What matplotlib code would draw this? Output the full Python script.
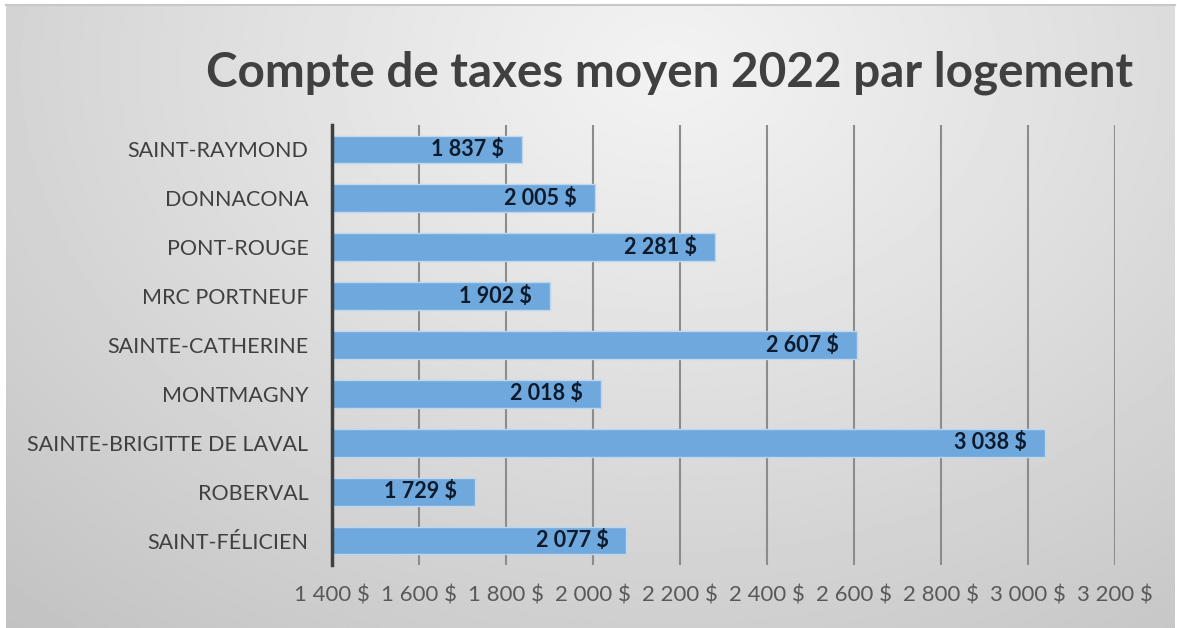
import numpy as np
import matplotlib
matplotlib.use("Agg")
import matplotlib.pyplot as plt

plt.rcParams['font.family'] = ['Lato', 'DejaVu Sans']

# Données
villes = ["SAINT-RAYMOND", "DONNACONA", "PONT-ROUGE", "MRC PORTNEUF",
          "SAINTE-CATHERINE", "MONTMAGNY", "SAINTE-BRIGITTE DE LAVAL",
          "ROBERVAL", "SAINT-FÉLICIEN"]
taxes = [1837, 2005, 2281, 1902, 2607, 2018, 3038, 1729, 2077]
ticks_x = [1400, 1600, 1800, 2000, 2200, 2400, 2600, 2800, 3000, 3200]


def dollars(v):
    return f"{v:,.0f}".replace(",", " ") + " $"


W, H = 1177, 628
fig = plt.figure(figsize=(W / 100, H / 100), dpi=100)
fig.patch.set_facecolor("white")

# Fond en dégradé radial
bg = fig.add_axes([6 / W, 0, (1175 - 6) / W, 1 - 4 / H])
yy, xx = np.mgrid[0:300, 0:600]
d = np.sqrt(((xx - 340) / 600) ** 2 + ((yy - 30) / 420) ** 2)
d = np.clip(d / d.max(), 0, 1)
light, dark = 0.95, 0.76
img = light - (light - dark) * d ** 1.1
bg.imshow(img, cmap="gray", vmin=0, vmax=1, aspect="auto",
          extent=[0, 1, 0, 1], origin="upper", interpolation="bilinear")
bg.set_axis_off()
fig.add_artist(plt.Line2D([6 / W, 1175 / W], [1 - 4.5 / H, 1 - 4.5 / H],
                          color="#c8c8c8", lw=1.5))

ax = fig.add_axes([332 / W, 1 - 565 / H, (1115 - 332) / W, 440 / H])
ax.patch.set_alpha(0)

y = np.arange(len(villes))
ax.barh(y, [t - 1400 for t in taxes], left=1400, height=0.57,
        color="#6fa8dc", edgecolor="#bdd7ee", linewidth=1, zorder=3)

for yi, t in zip(y, taxes):
    ax.annotate(dollars(t), xy=(t, yi), xytext=(-18, 0),
                textcoords="offset pixels",
                ha="right", va="center", fontsize=15.5, fontweight="bold",
                color="#0d1a2b", zorder=4)

ax.set_xlim(1400, 3200)
ax.set_ylim(len(villes) - 0.5, -0.5)
ax.set_xticks(ticks_x)
ax.set_xticklabels([dollars(v) for v in ticks_x])
ax.set_yticks(y)
ax.set_yticklabels(villes)
ax.tick_params(axis="x", length=0, pad=15, labelsize=16, labelcolor="#595959")
ax.tick_params(axis="y", length=0, pad=17, labelsize=15.5, labelcolor="#404040")
ax.grid(axis="x", color="#8c8c8c", linewidth=1.5, zorder=0)
ax.set_axisbelow(True)
for s in ["top", "right", "bottom"]:
    ax.spines[s].set_visible(False)
ax.spines["left"].set_color("#404040")
ax.spines["left"].set_linewidth(2.5)
ax.spines["left"].set_zorder(5)

fig.text(670 / W, 1 - 73 / H, "Compte de taxes moyen 2022 par logement",
         ha="center", va="center", fontsize=34.3, fontweight="bold",
         color="#404040")

fig.savefig("out.png", dpi=100)
plt.close(fig)
